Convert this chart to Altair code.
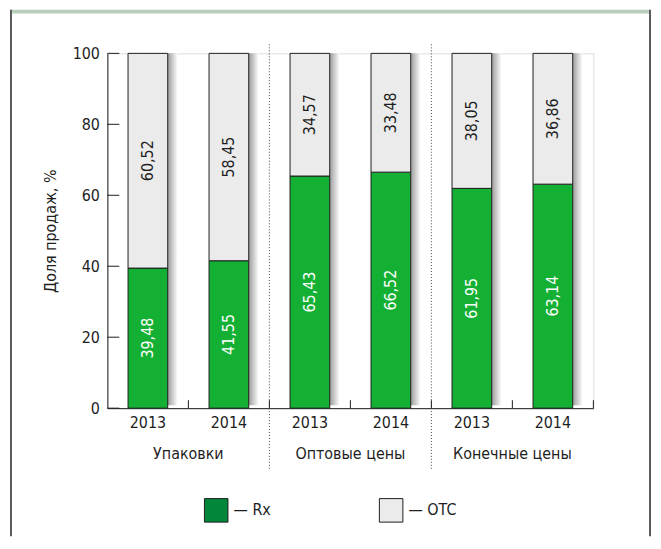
import altair as alt
import pandas as pd

groups = ["Упаковки", "Оптовые цены", "Конечные цены"]
years = ["2013", "2014"]
rx = [39.48, 41.55, 65.43, 66.52, 61.95, 63.14]
otc = [60.52, 58.45, 34.57, 33.48, 38.05, 36.86]
y_ticks = [0, 20, 40, 60, 80, 100]
series = ["Rx", "OTC"]

FONT = "Liberation Sans Narrow, DejaVu Sans Condensed, Roboto, sans-serif"
GREEN = "#14b034"
GRAY = "#ebebeb"
LEG_GREEN = "#00873a"
INK = "#1e1e1e"

cats = [f"{g}|{y}" for g in groups for y in years]
rows = []
for i, c in enumerate(cats):
    g, yr = c.split("|")
    rows.append(dict(cat=c, group=g, year=yr, series="Rx", start=0.0, end=rx[i],
                     mid=rx[i] / 2, label=f"{rx[i]:.2f}".replace(".", ",")))
    rows.append(dict(cat=c, group=g, year=yr, series="OTC", start=rx[i], end=rx[i] + otc[i],
                     mid=rx[i] + otc[i] / 2, label=f"{otc[i]:.2f}".replace(".", ",")))
df = pd.DataFrame(rows)

cat_df = pd.DataFrame({
    "cat": cats,
    "group": [c.split("|")[0] for c in cats],
    "year": [c.split("|")[1] for c in cats],
    "base": [0.0] * len(cats),
    "top": [rx[i] + otc[i] for i in range(len(cats))],
})
tick_df = pd.DataFrame({"v": y_ticks})
one = pd.DataFrame({"a": [0]})

W, H = 489, 357
xscale = alt.Scale(domain=cats, paddingInner=0, paddingOuter=0)
yscale = alt.Scale(domain=[0, 100], nice=False)
BAND = alt.RelativeBandSize(band=0.49)

XAX = alt.Axis(title=None, labelExpr="split(datum.label, '|')[1]", ticks=False,
               domainColor=INK, domainWidth=1, labelAngle=0, labelFontSize=16,
               labelColor=INK, labelPadding=6, labelFont=FONT)
YAX = alt.Axis(values=y_ticks, ticks=False, grid=False, domainColor=INK, domainWidth=1,
               labelFontSize=16, labelColor=INK, labelPadding=8, labelFont=FONT,
               title="Доля продаж, %", titleFontSize=16, titleFontWeight="normal",
               titleColor=INK, titleFont=FONT, titlePadding=14)


def X(field="cat:N", **kw):
    return alt.X(field, scale=xscale, axis=XAX, **kw)


def Y(field, **kw):
    return alt.Y(field, scale=yscale, axis=YAX, **kw)


shadow_grad = alt.LinearGradient(
    gradient="linear", x1=0, y1=0, x2=1, y2=0,
    stops=[alt.GradientStop(offset=0, color="#f3f3f3"),
           alt.GradientStop(offset=0.73, color="#e2e2e2"),
           alt.GradientStop(offset=0.75, color="#9c9c9c"),
           alt.GradientStop(offset=1, color="#ffffff")])

shadow = alt.Chart(cat_df).mark_bar(width=BAND, xOffset=10, yOffset=-3, color=shadow_grad).encode(
    x=X(), y=Y("base:Q"), y2="top:Q",
)

bars = alt.Chart(df).mark_bar(width=BAND, stroke=INK, strokeWidth=1).encode(
    x=X(), y=Y("start:Q"), y2="end:Q",
    color=alt.Color("series:N", scale=alt.Scale(domain=series, range=[GREEN, GRAY]), legend=None),
)

labels = alt.Chart(df).mark_text(angle=270, align="center", baseline="middle", fontSize=16, font=FONT).encode(
    x=X(), y=Y("mid:Q"),
    text="label:N",
    color=alt.condition(alt.datum.series == "Rx", alt.value("#ffffff"), alt.value(INK)),
)

legend_layer = alt.Chart(df).mark_square(size=10, opacity=0).encode(
    x=X(), y=Y("end:Q"),
    color=alt.Color("series:N", scale=alt.Scale(domain=series, range=[LEG_GREEN, GRAY]),
                    legend=alt.Legend(title=None, orient="none", legendX=97, legendY=447,
                                      direction="horizontal", symbolType="square", symbolSize=560,
                                      symbolStrokeColor=INK, symbolStrokeWidth=1, symbolOpacity=1,
                                      labelExpr="'— ' + datum.label", labelFontSize=16,
                                      labelColor=INK, labelFont=FONT, labelOffset=5,
                                      columnPadding=106, padding=0)),
)

yticks = alt.Chart(tick_df).mark_rule(color=INK, strokeWidth=1).encode(
    y=Y("v:Q"),
    x=alt.value(0), x2=alt.value(12),
)

xticks = alt.Chart(cat_df).mark_rule(color=INK, strokeWidth=1).encode(
    x=X(bandPosition=1),
    y=alt.value(H - 8), y2=alt.value(H),
)

sep_df = cat_df[(cat_df["year"] == years[0]) & (cat_df["group"] != groups[0])]
seps = alt.Chart(sep_df).mark_rule(color="#444", strokeWidth=1, strokeDash=[1, 2]).encode(
    x=X(bandPosition=0),
    y=alt.value(-9), y2=alt.value(420),
)

grp_df = cat_df[cat_df["year"] == years[1]]
grp_text = alt.Chart(grp_df).mark_text(fontSize=16, font=FONT, color=INK, baseline="alphabetic", align="center").encode(
    x=X(bandPosition=0),
    y=alt.value(408),
    text="group:N",
)

frame_l = alt.Chart(one).mark_rule(color="#5a5a5a", strokeWidth=2).encode(
    x=alt.value(-97), y=alt.value(-44), y2=alt.value(486))
frame_r = alt.Chart(one).mark_rule(color="#5a5a5a", strokeWidth=2).encode(
    x=alt.value(546), y=alt.value(-44), y2=alt.value(486))
header = alt.Chart(one).mark_rect(color="#b8d0bb").encode(
    x=alt.value(-98), x2=alt.value(546), y=alt.value(-44), y2=alt.value(-40))

chart = alt.layer(
    header, frame_l, frame_r, seps, shadow, bars, labels, yticks, xticks, grp_text, legend_layer
).resolve_scale(color="independent").properties(
    width=W, height=H,
    autosize=alt.AutoSizeParams(type="none"),
    padding={"left": 100, "top": 44, "right": 60, "bottom": 129},
).configure_view(stroke=None).configure(font=FONT, background="#ffffff")

chart.save("out.html", embed_options={"renderer": "svg", "actions": False})
